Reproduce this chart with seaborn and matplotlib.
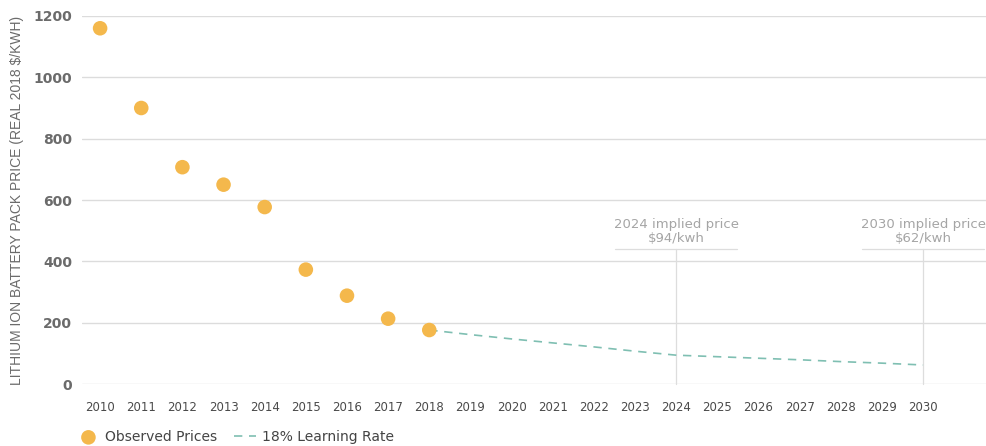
import numpy as np
import pandas as pd
import matplotlib
matplotlib.use("Agg")
import matplotlib.pyplot as plt
import seaborn as sns

# observed pack prices (real 2018 $/kWh)
obs_years = [2010, 2011, 2012, 2013, 2014, 2015, 2016, 2017, 2018]
obs_prices = [1160, 900, 707, 650, 577, 373, 288, 213, 176]

# 18% learning rate projection
proj_years = [2018, 2019, 2020, 2021, 2022, 2023, 2024, 2025, 2026, 2027, 2028, 2029, 2030]
proj_prices = [176, 161, 147, 134, 121, 107, 94, 89, 84, 79, 73, 68, 62]

# callouts
note_years = [2024, 2030]
note_labels = ["2024 implied price\n$94/kwh", "2030 implied price\n$62/kwh"]

x_ticks = list(range(2010, 2031))
y_ticks = [0, 200, 400, 600, 800, 1000, 1200]

orange = "#F4B84C"
teal = "#7FBFB2"
grey = "#6b6b6b"

sns.set_style("white")
plt.rcParams['font.family'] = ['DejaVu Sans']

obs = pd.DataFrame({"year": obs_years, "price": obs_prices})
proj = pd.DataFrame({"year": proj_years, "price": proj_prices})

fig = plt.figure(figsize=(9.86, 4.46), dpi=100)
ax = fig.add_axes([82 / 986, 1 - 384 / 446, 1 - 82 / 986, 368 / 446])

# annotation lines
for yr, lab in zip(note_years, note_labels):
    ax.plot([yr, yr], [0, 440], color="#dddddd", lw=0.9, zorder=1, clip_on=False)
    ax.plot([yr - 1.48, yr + 1.48], [440, 440], color="#dddddd", lw=0.9, zorder=1, clip_on=False)
    ax.text(yr, 452, lab, ha="center", va="bottom", fontsize=9.5, color="#a5a5a5",
            linespacing=1.1)

sns.lineplot(data=proj, x="year", y="price", ax=ax, color=teal, lw=1.2,
             zorder=2, label="18% Learning Rate")
ax.lines[-1].set_linestyle((0, (5, 4)))
sns.scatterplot(data=obs, x="year", y="price", ax=ax, color=orange, s=110,
                edgecolor="none", zorder=3, clip_on=False, label="Observed Prices")

ax.set_xlim(2009.56, 2031.53)
ax.set_ylim(0, 1200)
ax.set_yticks(y_ticks)
ax.set_xticks(x_ticks)
ax.grid(axis="y", color="#dcdcdc", lw=1)
ax.grid(axis="x", visible=False)
for s in ax.spines.values():
    s.set_visible(False)
ax.tick_params(axis="x", length=6, width=0.8, color="#cccccc", pad=6,
               labelsize=8.5, labelcolor="#4a4a4a")
ax.tick_params(axis="y", length=0, pad=7, labelsize=10, labelcolor=grey)
for t in ax.get_yticklabels():
    t.set_fontweight("bold")
ax.set_xlabel("")
ax.set_ylabel("LITHIUM ION BATTERY PACK PRICE (REAL 2018 $/KWH)", fontsize=10,
              color=grey, family=["Liberation Sans", "DejaVu Sans"])
ax.yaxis.set_label_coords(-0.064, 0.5)

h, l = ax.get_legend_handles_labels()
order = [l.index("Observed Prices"), l.index("18% Learning Rate")]
leg = ax.legend([h[i] for i in order], [l[i] for i in order], loc="center left",
                bbox_to_anchor=(-0.019, -0.144), ncol=2, frameon=False,
                fontsize=10, handlelength=1.6, handletextpad=0.4, columnspacing=1.2,
                labelcolor="#444444")

fig.savefig("out.png", dpi=100)
